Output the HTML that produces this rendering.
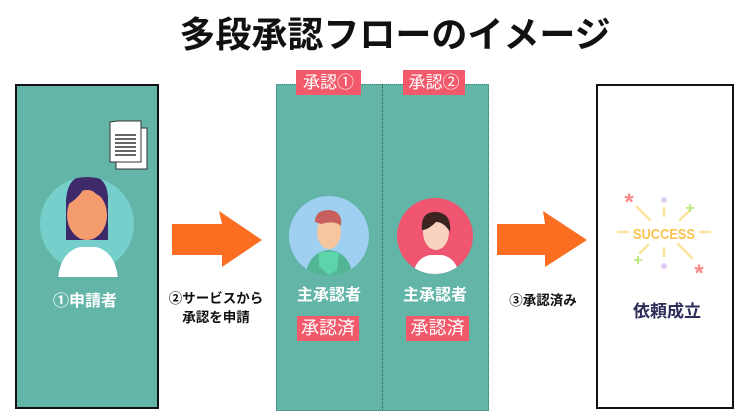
<!DOCTYPE html>
<html><head><meta charset="utf-8"><style>
body{margin:0;width:750px;height:420px;background:#fff;position:relative;overflow:hidden;font-family:"Liberation Sans","Noto Sans CJK JP",sans-serif}
.a{position:absolute}
.t{position:absolute;white-space:nowrap;font-weight:bold;transform:translateX(-50%)}
.badge{position:absolute;background:#f25a6b;color:#fff;font-size:17px;line-height:25px;text-align:center}
</style></head><body>
<div class="t" style="left:395px;top:6px;font-size:36px;color:#111">多段承認フローのイメージ</div>

<div class="a" style="left:15px;top:84px;width:140px;height:321px;background:#63b5a8;border:2px solid #111"></div>
<div class="a" style="left:276px;top:84px;width:211px;height:325px;background:#63b5a8;border:1px dotted #3d7a70"></div>
<div class="a" style="left:382px;top:84px;width:0;height:326px;border-left:1px dotted #2d5f56"></div>
<div class="a" style="left:596px;top:84px;width:134px;height:321px;background:#fff;border:2px solid #111"></div>

<div class="badge" style="left:296px;top:70px;width:65px">承認①</div>
<div class="badge" style="left:403px;top:70px;width:62px">承認②</div>

<svg class="a" style="left:0;top:0" width="750" height="420">
<rect x="116" y="128" width="31" height="41" fill="#fff" stroke="#333" stroke-width="1"/>
<path d="M110 122 L110 162 L141 162 L141 121 L117 121 Z" fill="#fff" stroke="#333"/>
<g stroke="#333" stroke-width="1.6"><line x1="115" y1="135" x2="136" y2="135"/><line x1="115" y1="139" x2="136" y2="139"/><line x1="115" y1="143" x2="136" y2="143"/><line x1="115" y1="147" x2="136" y2="147"/><line x1="115" y1="151" x2="136" y2="151"/><line x1="115" y1="155" x2="136" y2="155"/></g>
<circle cx="87" cy="224" r="47" fill="#76cfca"/>
<clipPath id="c1"><circle cx="87" cy="224" r="47"/><rect x="40" y="224" width="94" height="53"/></clipPath>
<g clip-path="url(#c1)">
<path d="M66 200 Q68 175 86 176 Q108 174 108 200 L108 240 L66 240 Z" fill="#3e2a6b"/>
<ellipse cx="87" cy="215" rx="20" ry="25" fill="#f59c6f"/>
<path d="M66 205 Q70 178 90 178 Q108 180 108 200 Q95 195 86 185 Q78 200 66 205Z" fill="#3e2a6b"/>
<path d="M58 280 Q60 252 80 247 L96 247 Q116 252 118 280Z" fill="#fff"/>
</g>
<circle cx="329" cy="236" r="40" fill="#9fcff1"/>
<clipPath id="c2"><circle cx="329" cy="236" r="40"/></clipPath>
<g clip-path="url(#c2)">
<path d="M305 280 Q307 252 329 250 Q351 252 353 280Z" fill="#52b596"/>
<path d="M319 252 L339 252 L337 270 L329 275 L319 266Z" fill="#5dd4aa"/>
<ellipse cx="329" cy="232" rx="12" ry="17" fill="#f6c79e"/>
<path d="M315 222 Q315 210 329 210 Q343 211 341 226 Q335 220 321 224 Z" fill="#c65f5d"/>
</g>
<circle cx="435" cy="236" r="38" fill="#f0566f"/>
<clipPath id="c3"><circle cx="435" cy="236" r="38"/></clipPath>
<g clip-path="url(#c3)">
<path d="M412 280 Q414 258 430 255 L442 255 Q458 258 460 280Z" fill="#fff"/>
<ellipse cx="436" cy="232" rx="13" ry="18" fill="#f9d3bf"/>
<path d="M422 230 Q420 211 437 212 Q452 214 450 232 Q444 222 436 222 Q428 230 422 230Z" fill="#3b2420"/>
</g>
<path d="M172 224 L222 224 L219 211 L262 240 L222 267 L222 255 L172 255 Z" fill="#fb6d21"/>
<path d="M497 224 L545 224 L543 211 L587 240 L545 267 L545 255 L497 255 Z" fill="#fb6d21"/>
<text x="664" y="239" font-family="Liberation Sans" font-weight="bold" font-size="15" fill="#fcc34f" text-anchor="middle" textLength="62" lengthAdjust="spacingAndGlyphs">SUCCESS</text>
<g stroke="#fde39b" stroke-width="2.5" stroke-linecap="round">
<line x1="618" y1="232" x2="628" y2="232"/><line x1="700" y1="232" x2="710" y2="232"/>
<line x1="664" y1="208" x2="664" y2="216"/><line x1="664" y1="248" x2="664" y2="256"/>
<line x1="637" y1="207" x2="650" y2="220"/><line x1="678" y1="244" x2="692" y2="258"/>
<line x1="690" y1="210" x2="680" y2="220"/><line x1="648" y1="245" x2="640" y2="253"/>
</g>
<text x="629" y="210" fill="#fb8a8a" font-size="24" font-weight="bold" text-anchor="middle">*</text>
<text x="699" y="281" fill="#fb8a8a" font-size="24" font-weight="bold" text-anchor="middle">*</text>
<circle cx="664" cy="200" r="3" fill="#e2cdf5"/><circle cx="664" cy="266" r="3" fill="#e2cdf5"/>
<text x="690" y="213" fill="#b9ea7c" font-size="16" font-weight="bold" text-anchor="middle">+</text>
<text x="638" y="265" fill="#b9ea7c" font-size="16" font-weight="bold" text-anchor="middle">+</text>
</svg>

<div class="t" style="left:85px;top:287px;font-size:16px;color:#fff">①申請者</div>
<div class="t" style="left:329px;top:281px;font-size:16px;color:#fff">主承認者</div>
<div class="t" style="left:435px;top:281px;font-size:16px;color:#fff">主承認者</div>
<div class="badge" style="left:297px;top:316px;width:62px;font-size:18px">承認済</div>
<div class="badge" style="left:406px;top:316px;width:63px;font-size:18px">承認済</div>
<div class="t" style="left:216px;top:289px;font-size:13.5px;color:#111;text-align:center;line-height:19px">②サービスから<br>承認を申請</div>
<div class="t" style="left:543px;top:289px;font-size:13.5px;color:#111">③承認済み</div>
<div class="t" style="left:667px;top:297px;font-size:17px;color:#2d2d5a">依頼成立</div>
</body></html>
